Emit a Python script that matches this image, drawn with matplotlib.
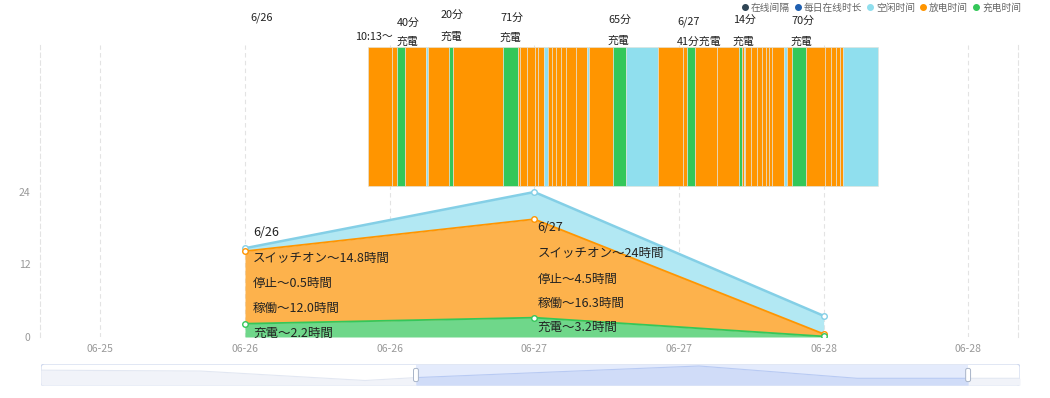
import matplotlib
matplotlib.use('Agg')
import matplotlib.pyplot as plt
import matplotlib.transforms as mtrans
from matplotlib.lines import Line2D
from matplotlib.patches import FancyBboxPatch
import numpy as np

plt.rcParams['font.family'] = ['Noto Sans CJK JP', 'DejaVu Sans']

# ---------------- data ----------------
# daily summary, x in hours since 06-26 00:00
day_x = [0, 24, 48]
day_names = ['6/26', '6/27', '6/28']
charge_h = [2.2, 3.2, 0.1]
run_h = [12.0, 16.3, 0.4]
stop_h = [0.5, 4.5, 3.0]
switch_on_h = [14.8, 24, 3.5]

x_ticks = [-12, 0, 12, 24, 36, 48, 60]
x_tick_labels = ['06-25', '06-26', '06-26', '06-27', '06-27', '06-28', '06-28']
y_ticks = [0, 12, 24]

# timeline segments: minutes since 06-26 00:00; D = discharge, C = charge, I = idle
seg_start = [613, 733, 758, 798, 901, 911, 1017, 1037, 1286, 1357, 1368, 1405, 1443, 1460,
             1489, 1509, 1526, 1547, 1571, 1596, 1646, 1700, 1710, 1833, 1898, 2053, 2178,
             2198, 2239, 2347, 2458, 2472, 2482, 2488, 2520, 2546, 2572, 2592, 2610, 2625,
             2683, 2695, 2722, 2792, 2888, 2916, 2943, 2961, 2976]
seg_end = seg_start[1:] + [3150]
seg_type = ['D', 'D', 'C', 'D', 'I', 'D', 'C', 'D', 'C', 'D', 'D', 'D', 'D', 'D',
            'I', 'D', 'D', 'D', 'D', 'D', 'D', 'I', 'D', 'C', 'I', 'D', 'D',
            'C', 'D', 'D', 'C', 'D', 'I', 'D', 'D', 'D', 'D', 'D', 'D', 'D',
            'I', 'D', 'C', 'D', 'D', 'D', 'D', 'D', 'I']

top_texts = ['6/26', '10:13～', '40分', '充電', '20分', '充電', '71分', '充電',
             '65分', '充電', '6/27', '41分充電', '14分', '充電', '70分', '充電']

legend_labels = ['在线间隔', '每日在线时长', '空闲时间', '放电时间', '充电时间']

# slider data shadow (fraction of slider width, fraction of height)
shadow_x = [0.0, 0.163, 0.331, 0.382, 0.672, 0.833, 1.0]
shadow_y = [0.72, 0.68, 0.25, 0.38, 0.91, 0.35, 0.35]
sel_range = [0.383, 0.947]

# ---------------- layout / style ----------------
W, H = 1050, 398
GREEN, ORANGE, CYAN = '#34c759', '#ff9500', '#90dfee'
GREEN_F, ORANGE_F, CYAN_F = '#6fd78a', '#fdb24c', '#b2e8f3'
CYAN_L = '#84cfe6'
seg_colors = {'D': ORANGE, 'C': GREEN, 'I': CYAN}

fig = plt.figure(figsize=(W / 100, H / 100), dpi=100)
ax = fig.add_axes([40 / W, 1 - 337 / H, (1018 - 40) / W, (337 - 45) / H])
px_per_h = 144.67 / 12
ax.set_xlim((40 - 245) / px_per_h, (1018 - 245) / px_per_h)
px_per_u = 145 / 24
ax.set_ylim(0, (337 - 45) / px_per_u)

for sp in ['top', 'bottom']:
    ax.spines[sp].set_visible(False)
for sp in ['left', 'right']:
    ax.spines[sp].set_color('#e3e3e3')
    ax.spines[sp].set_linestyle((0, (4, 3)))
    ax.spines[sp].set_linewidth(0.8)

ax.set_xticks(x_ticks)
ax.set_xticklabels(x_tick_labels)
ax.set_yticks(y_ticks)
ax.tick_params(axis='both', length=0, colors='#999999', labelsize=7.5)
ax.tick_params(axis='x', pad=5)
ax.tick_params(axis='y', pad=7)
ax.grid(axis='x', color='#e3e3e3', linestyle=(0, (4, 3)), linewidth=0.8, zorder=0)
ax.set_axisbelow(True)

# timeline bars
for s, e, t in zip(seg_start, seg_end, seg_type):
    ax.bar(s / 60, height=23, width=(e - s) / 60, bottom=25, align='edge',
           color=seg_colors[t], edgecolor='#e2e4dc', linewidth=0.45, zorder=2)

# stacked areas
c = np.array(charge_h)
r = np.array(run_h)
s_ = np.array(stop_h)
l1, l2, l3 = c, c + r, c + r + s_
ax.fill_between(day_x, 0, l1, color=GREEN_F, lw=0, zorder=2)
ax.fill_between(day_x, l1, l2, color=ORANGE_F, lw=0, zorder=2)
ax.fill_between(day_x, l2, l3, color=CYAN_F, lw=0, zorder=2)
ax.plot(day_x, l3, color=CYAN_L, lw=1.8, marker='o', ms=4, mfc='white', mec=CYAN_L, mew=1, zorder=3)
ax.plot(day_x, l2, color=ORANGE, lw=1.3, marker='o', ms=4, mfc='white', mec=ORANGE, mew=1, zorder=4)
ax.plot(day_x, l1, color=GREEN, lw=1.3, marker='o', ms=4, mfc='white', mec=GREEN, mew=1, zorder=4)

# daily annotations
ann_x_off_px = [8, 3]
ann_y_px = [[232, 258, 283, 308, 333], [228, 253, 279, 303, 327]]
for i in range(2):
    lines = [day_names[i],
             f'スイッチオン～{switch_on_h[i]:g}時間',
             f'停止～{stop_h[i]:.1f}時間',
             f'稼働～{run_h[i]:.1f}時間',
             f'充電～{charge_h[i]:.1f}時間']
    for txt, py in zip(lines, ann_y_px[i]):
        ax.text(day_x[i] + ann_x_off_px[i] / px_per_h, (337 - py) / px_per_u, txt,
                fontsize=9, color='#222222', va='center', ha='left', zorder=6)

# labels above timeline
blend = mtrans.blended_transform_factory(ax.transData, fig.transFigure)
top_pos = [(250, 18), (355, 37), (397, 24), (397, 42), (441, 16), (441, 37), (500, 19), (500, 38),
           (608, 21), (608, 41), (677, 22), (677, 42), (733, 21), (733, 42), (791, 22), (791, 42)]
for txt, (px, py) in zip(top_texts, top_pos):
    ax.text((px - 245) / px_per_h, 1 - py / H, txt, transform=blend, fontsize=7.8,
            color='#222222', va='center', ha='left', clip_on=False)

# legend
leg_colors = ['#2f4554', '#1f5fb0', CYAN, ORANGE, GREEN]
handles = [Line2D([], [], linestyle='none', marker='o', ms=4, mfc=col, mec=col) for col in leg_colors]
fig.legend(handles, legend_labels, loc='upper right', bbox_to_anchor=(1030 / W, 1.015), ncol=5,
           frameon=False, handlelength=0.5, handletextpad=0.35, columnspacing=0.6,
           labelcolor='#666666', prop={'family': ['Noto Sans CJK SC', 'DejaVu Sans'], 'size': 7})

# slider
sax = fig.add_axes([41 / W, 1 - 386 / H, (1020 - 41) / W, 22 / H])
sax.set_xlim(0, 1)
sax.set_ylim(0, 1)
sax.axis('off')
sax.add_patch(FancyBboxPatch((0, 0), 1, 1, boxstyle='round,pad=0,rounding_size=0.004',
                             transform=sax.transAxes, facecolor='white', edgecolor='#d0d9ee',
                             lw=0.9, zorder=1, mutation_aspect=40))
sx = np.array(shadow_x)
sy = np.array(shadow_y)
sax.fill_between(sx, 0.04, sy, color='#f1f3f9', lw=0, zorder=2)
sax.plot(sx, sy, color='#e2e7f2', lw=0.8, zorder=2)
sax.axvspan(sel_range[0], sel_range[1], ymin=0.04, ymax=0.96, color='#e4ebfc', lw=0, zorder=3)
xs = np.linspace(sel_range[0], sel_range[1], 200)
ys = np.interp(xs, sx, sy)
sax.fill_between(xs, 0.04, ys, color='#d0dcf8', lw=0, zorder=4)
sax.plot(xs, ys, color='#b8caf3', lw=0.8, zorder=4)
for hx in sel_range:
    sax.add_patch(FancyBboxPatch((hx - 0.0025, 0.2), 0.005, 0.6, boxstyle='round,pad=0,rounding_size=0.002',
                                 facecolor='white', edgecolor='#a8b4c8', lw=0.7, zorder=5,
                                 mutation_aspect=40))

fig.savefig('out.png', dpi=100)
